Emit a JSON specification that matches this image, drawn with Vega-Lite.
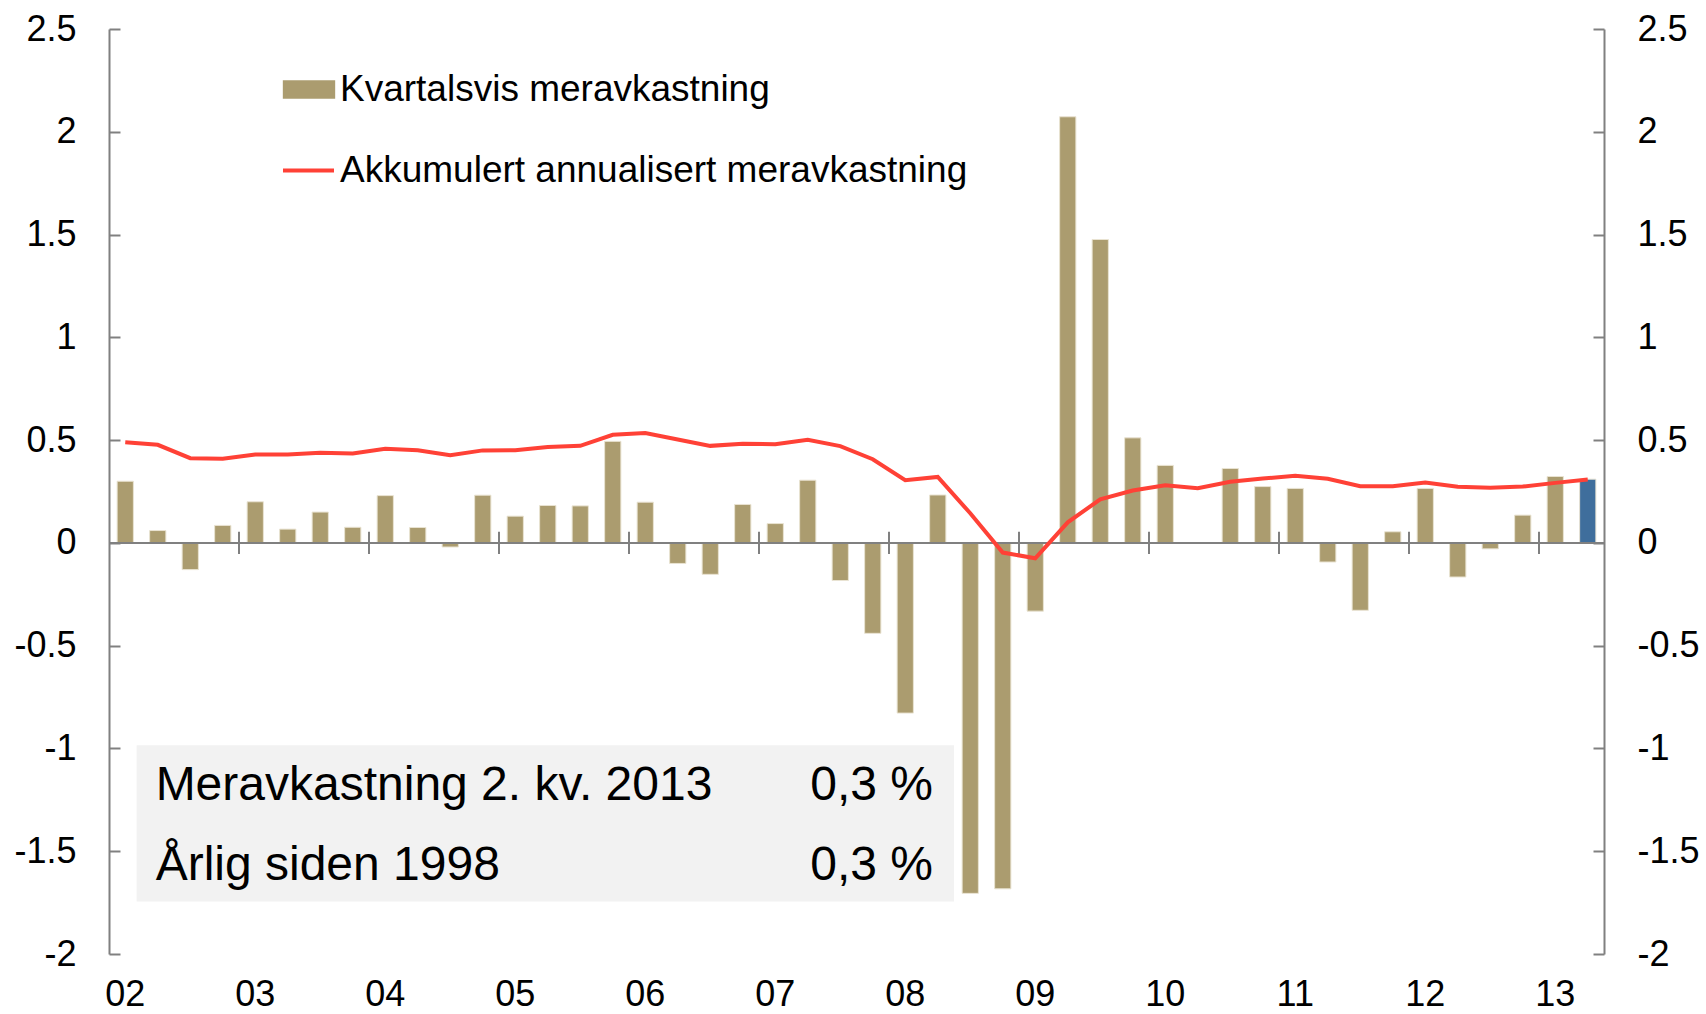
{
  "$schema": "https://vega.github.io/schema/vega-lite/v6.json",
  "autosize": {"type": "none"},
  "width": 1495,
  "height": 925,
  "padding": {"left": 109, "top": 29, "right": 102, "bottom": 60},
  "config": {"view": {"stroke": null}, "font": "Liberation Sans"},
  "datasets": {
    "kvartaler": [
      {"period": "2002K1", "kvartal": 0.30, "akkumulert": 0.490},
      {"period": "2002K2", "kvartal": 0.06, "akkumulert": 0.477},
      {"period": "2002K3", "kvartal": -0.13, "akkumulert": 0.412},
      {"period": "2002K4", "kvartal": 0.085, "akkumulert": 0.409},
      {"period": "2003K1", "kvartal": 0.20, "akkumulert": 0.430},
      {"period": "2003K2", "kvartal": 0.067, "akkumulert": 0.430},
      {"period": "2003K3", "kvartal": 0.15, "akkumulert": 0.438},
      {"period": "2003K4", "kvartal": 0.076, "akkumulert": 0.435},
      {"period": "2004K1", "kvartal": 0.23, "akkumulert": 0.458},
      {"period": "2004K2", "kvartal": 0.075, "akkumulert": 0.451},
      {"period": "2004K3", "kvartal": -0.02, "akkumulert": 0.427},
      {"period": "2004K4", "kvartal": 0.232, "akkumulert": 0.450},
      {"period": "2005K1", "kvartal": 0.13, "akkumulert": 0.451},
      {"period": "2005K2", "kvartal": 0.182, "akkumulert": 0.466},
      {"period": "2005K3", "kvartal": 0.18, "akkumulert": 0.472},
      {"period": "2005K4", "kvartal": 0.494, "akkumulert": 0.526},
      {"period": "2006K1", "kvartal": 0.198, "akkumulert": 0.534},
      {"period": "2006K2", "kvartal": -0.10, "akkumulert": 0.503},
      {"period": "2006K3", "kvartal": -0.153, "akkumulert": 0.472},
      {"period": "2006K4", "kvartal": 0.187, "akkumulert": 0.482},
      {"period": "2007K1", "kvartal": 0.094, "akkumulert": 0.480},
      {"period": "2007K2", "kvartal": 0.305, "akkumulert": 0.502},
      {"period": "2007K3", "kvartal": -0.183, "akkumulert": 0.471},
      {"period": "2007K4", "kvartal": -0.44, "akkumulert": 0.407},
      {"period": "2008K1", "kvartal": -0.828, "akkumulert": 0.305},
      {"period": "2008K2", "kvartal": 0.233, "akkumulert": 0.321},
      {"period": "2008K3", "kvartal": -1.705, "akkumulert": 0.144},
      {"period": "2008K4", "kvartal": -1.683, "akkumulert": -0.047},
      {"period": "2009K1", "kvartal": -0.332, "akkumulert": -0.075},
      {"period": "2009K2", "kvartal": 2.073, "akkumulert": 0.10},
      {"period": "2009K3", "kvartal": 1.476, "akkumulert": 0.212},
      {"period": "2009K4", "kvartal": 0.511, "akkumulert": 0.255},
      {"period": "2010K1", "kvartal": 0.377, "akkumulert": 0.28},
      {"period": "2010K2", "kvartal": 0.0, "akkumulert": 0.266},
      {"period": "2010K3", "kvartal": 0.362, "akkumulert": 0.297},
      {"period": "2010K4", "kvartal": 0.274, "akkumulert": 0.313},
      {"period": "2011K1", "kvartal": 0.265, "akkumulert": 0.326},
      {"period": "2011K2", "kvartal": -0.093, "akkumulert": 0.312},
      {"period": "2011K3", "kvartal": -0.328, "akkumulert": 0.276},
      {"period": "2011K4", "kvartal": 0.054, "akkumulert": 0.276},
      {"period": "2012K1", "kvartal": 0.265, "akkumulert": 0.294},
      {"period": "2012K2", "kvartal": -0.166, "akkumulert": 0.273},
      {"period": "2012K3", "kvartal": -0.029, "akkumulert": 0.268},
      {"period": "2012K4", "kvartal": 0.135, "akkumulert": 0.274},
      {"period": "2013K1", "kvartal": 0.323, "akkumulert": 0.292},
      {"period": "2013K2", "kvartal": 0.31, "akkumulert": 0.308}
    ],
    "aar": [
      {"period": "2002K1", "aar": "02"},
      {"period": "2003K1", "aar": "03"},
      {"period": "2004K1", "aar": "04"},
      {"period": "2005K1", "aar": "05"},
      {"period": "2006K1", "aar": "06"},
      {"period": "2007K1", "aar": "07"},
      {"period": "2008K1", "aar": "08"},
      {"period": "2009K1", "aar": "09"},
      {"period": "2010K1", "aar": "10"},
      {"period": "2011K1", "aar": "11"},
      {"period": "2012K1", "aar": "12"},
      {"period": "2013K1", "aar": "13"}
    ],
    "boks": [
      {"tekst": "Meravkastning 2. kv. 2013", "verdi": "0,3 %"},
      {"tekst": "Årlig siden 1998", "verdi": "0,3 %"}
    ]
  },
  "resolve": {"axis": {"y": "independent"}},
  "layer": [
    {
      "data": {"name": "kvartaler"},
      "mark": {"type": "bar", "stroke": "#e9e3d2", "strokeWidth": 1},
      "encoding": {
        "x": {
          "field": "period", "type": "ordinal",
          "scale": {"type": "band", "paddingInner": 0.5, "paddingOuter": 0.25},
          "axis": null
        },
        "y": {
          "field": "kvartal", "type": "quantitative",
          "scale": {"domain": [-2, 2.5], "nice": false, "zero": false},
          "axis": {
            "orient": "left", "title": null, "grid": false,
            "values": [-2, -1.5, -1, -0.5, 0, 0.5, 1, 1.5, 2, 2.5],
            "labelExpr": "'' + datum.value",
            "labelFont": "Liberation Sans", "labelFontSize": 36, "labelColor": "#000000",
            "domainColor": "#808080", "domainWidth": 2,
            "tickColor": "#808080", "tickWidth": 2, "tickSize": -11,
            "labelPadding": 44
          }
        },
        "fill": {
          "datum": "Kvartalsvis meravkastning", "type": "nominal",
          "scale": {"range": ["#AB9C6F"]},
          "condition": {"test": "datum.period === '2013K2'", "value": "#3F6E9C"},
          "legend": {
            "orient": "none", "legendX": 181, "legendY": 41.5, "padding": 0,
            "title": null, "symbolType": "M-1.4,-0.5H1.4V0.5H-1.4Z", "symbolSize": 1399,
            "symbolStrokeWidth": 0, "labelOffset": 12,
            "labelFont": "Liberation Sans", "labelFontSize": 37, "labelColor": "#000000", "labelLimit": 0
          }
        }
      }
    },
    {
      "data": {"name": "boks"},
      "transform": [{"filter": "datum.tekst == 'Årlig siden 1998'"}],
      "mark": {"type": "rect", "color": "#F2F2F2"},
      "encoding": {
        "x": {"datum": "2002K1", "type": "ordinal", "bandPosition": 1.2, "axis": null},
        "x2": {"datum": "2008K2", "bandPosition": 1.5},
        "y": {"datum": -0.985, "type": "quantitative", "axis": null},
        "y2": {"datum": -1.745}
      }
    },
    {
      "data": {"name": "kvartaler"},
      "mark": {"type": "rule", "color": "#808080", "strokeWidth": 2},
      "encoding": {
        "y": {"datum": 0, "type": "quantitative", "axis": null}
      }
    },
    {
      "data": {"name": "kvartaler"},
      "transform": [{"filter": "indexof(datum.period, 'K1') > 0 && datum.period != '2002K1'"}],
      "mark": {"type": "rule", "color": "#808080", "strokeWidth": 2},
      "encoding": {
        "x": {"field": "period", "type": "ordinal", "bandPosition": -0.5, "axis": null},
        "y": {"datum": -0.054, "type": "quantitative", "axis": null},
        "y2": {"datum": 0.054}
      }
    },
    {
      "data": {"name": "aar"},
      "mark": {"type": "text", "align": "center", "baseline": "middle", "fontSize": 36, "font": "Liberation Sans", "color": "#000000", "dy": 41},
      "encoding": {
        "x": {"field": "period", "type": "ordinal", "axis": null},
        "y": {"datum": -2, "type": "quantitative", "axis": null},
        "text": {"field": "aar"}
      }
    },
    {
      "data": {"name": "kvartaler"},
      "mark": {"type": "line", "strokeWidth": 4},
      "encoding": {
        "x": {"field": "period", "type": "ordinal", "axis": null},
        "y": {
          "field": "akkumulert", "type": "quantitative",
          "scale": {"domain": [-2, 2.5], "nice": false, "zero": false},
          "axis": {
            "orient": "right", "title": null, "grid": false,
            "values": [-2, -1.5, -1, -0.5, 0, 0.5, 1, 1.5, 2, 2.5],
            "labelExpr": "'' + datum.value",
            "labelFont": "Liberation Sans", "labelFontSize": 36, "labelColor": "#000000",
            "domainColor": "#808080", "domainWidth": 2,
            "tickColor": "#808080", "tickWidth": 2, "tickSize": -11,
            "labelPadding": 44
          }
        },
        "stroke": {
          "datum": "Akkumulert annualisert meravkastning", "type": "nominal",
          "scale": {"range": ["#FF4136"]},
          "legend": {
            "orient": "none", "legendX": 172, "legendY": 114, "padding": 0,
            "title": null, "symbolType": "stroke", "symbolSize": 2601,
            "symbolStrokeWidth": 4, "labelOffset": 4,
            "labelFont": "Liberation Sans", "labelFontSize": 37, "labelColor": "#000000", "labelLimit": 0
          }
        }
      }
    },
    {
      "data": {"name": "boks"},
      "transform": [{"filter": "datum.tekst == 'Meravkastning 2. kv. 2013'"}],
      "encoding": {"y": {"datum": -1.183, "type": "quantitative", "axis": null}},
      "layer": [
        {
          "mark": {"type": "text", "align": "left", "baseline": "middle", "fontSize": 48, "font": "Liberation Sans", "color": "#000000", "dx": 19},
          "encoding": {
            "x": {"datum": "2002K1", "type": "ordinal", "bandPosition": 1.2, "axis": null},
            "text": {"field": "tekst"}
          }
        },
        {
          "mark": {"type": "text", "align": "right", "baseline": "middle", "fontSize": 48, "font": "Liberation Sans", "color": "#000000", "dx": -21},
          "encoding": {
            "x": {"datum": "2008K2", "type": "ordinal", "bandPosition": 1.5, "axis": null},
            "text": {"field": "verdi"}
          }
        }
      ]
    },
    {
      "data": {"name": "boks"},
      "transform": [{"filter": "datum.tekst == 'Årlig siden 1998'"}],
      "encoding": {"y": {"datum": -1.57, "type": "quantitative", "axis": null}},
      "layer": [
        {
          "mark": {"type": "text", "align": "left", "baseline": "middle", "fontSize": 48, "font": "Liberation Sans", "color": "#000000", "dx": 19},
          "encoding": {
            "x": {"datum": "2002K1", "type": "ordinal", "bandPosition": 1.2, "axis": null},
            "text": {"field": "tekst"}
          }
        },
        {
          "mark": {"type": "text", "align": "right", "baseline": "middle", "fontSize": 48, "font": "Liberation Sans", "color": "#000000", "dx": -21},
          "encoding": {
            "x": {"datum": "2008K2", "type": "ordinal", "bandPosition": 1.5, "axis": null},
            "text": {"field": "verdi"}
          }
        }
      ]
    }
  ]
}
